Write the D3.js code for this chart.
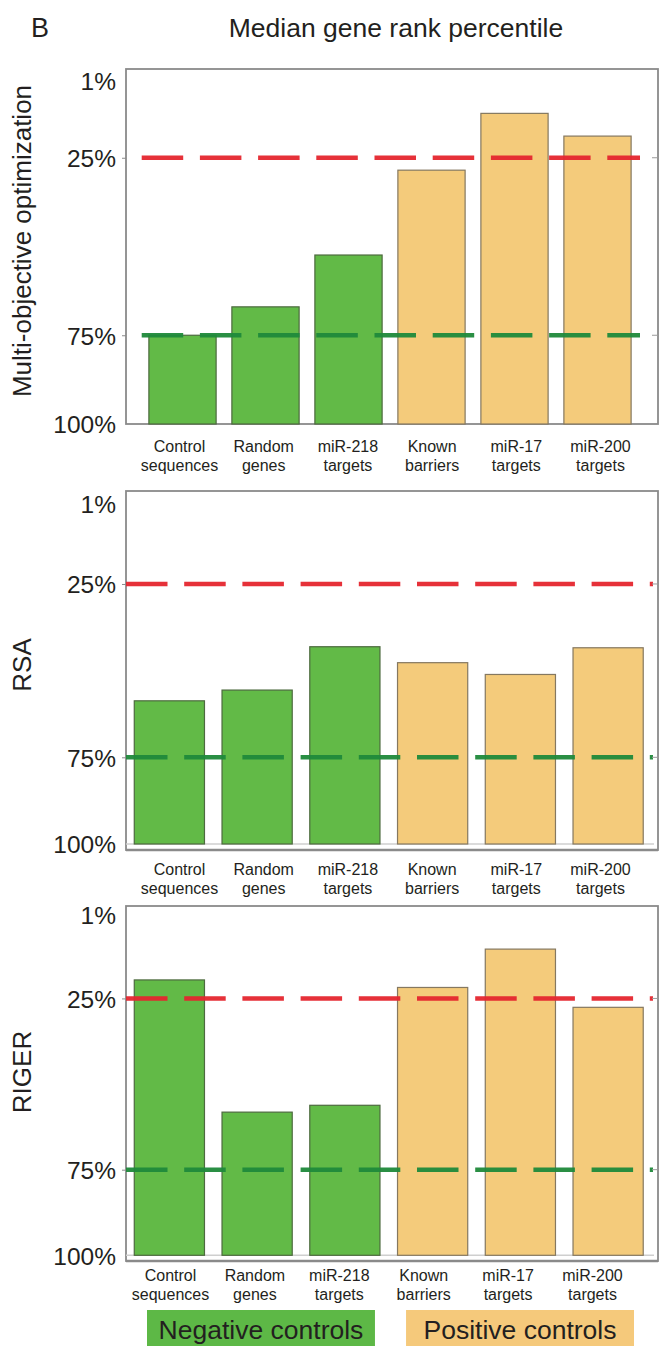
<!DOCTYPE html>
<html><head><meta charset="utf-8">
<script src="https://cdn.jsdelivr.net/npm/d3@7"></script>
<style>
body{margin:0;background:#fff}
text{font-family:"Liberation Sans",Arial,Helvetica,sans-serif;fill:#231f20}
</style>
</head><body>
<svg id="chart" width="660" height="1346"></svg>
<script>
// ---- data ----
const categories = ["Control sequences","Random genes","miR-218 targets","Known barriers","miR-17 targets","miR-200 targets"];
const groups = ["neg","neg","neg","pos","pos","pos"];
const methods = ["Multi-objective optimization","RSA","RIGER"];
const moValues = [75, 67, 52.4, 28.5, 12.5, 18.9];
const rsaValues = [58.7, 55.6, 43.1, 47.7, 51.1, 43.4];
const rigerValues = [19.6, 58.2, 56.2, 21.8, 10.6, 27.6];
const yTicks = [1, 25, 75, 100];
const yTickLabels = ["1%","25%","75%","100%"];
const thresholds = [25, 75];
const legendLabels = ["Negative controls","Positive controls"];
const chartTitle = "Median gene rank percentile";
const panelLetter = "B";

// ---- styles / layout ----
const fillColor = {neg:"#62ba47", pos:"#f4cb7b"};
const strokeColor = {neg:"#4d6a3f", pos:"#857860"};
const threshColor = {25:"#e5262f", 75:"#1f8a3b"};
const legendFill = ["#5db846","#f5c97b"];
const frameLeft = 126, frameRight = 658;

const panels = [
  {values: moValues, method: methods[0], frameTop: 69, frameBottom: 424, yRange:[69,424],
   band:[141,639], pad:0.19, labelRange:[179,600], labelBase:452, dash:[141.7,640], baseline:false, titleY:241, topNudge:9},
  {values: rsaValues, method: methods[1], frameTop: 491, frameBottom: 850, yRange:[497.3,844],
   band:[125.5,652], pad:0.2, labelRange:[179,600], labelBase:875, dash:[126,653], baseline:true, titleY:665, topNudge:4},
  {values: rigerValues, method: methods[2], frameTop: 906, frameBottom: 1261, yRange:[912.8,1255.3],
   band:[125.5,652], pad:0.2, labelRange:[170,592], labelBase:1281, dash:[126,653], baseline:true, titleY:1072, topNudge:0}
];

const svg = d3.select("#chart");
svg.append("rect").attr("width",660).attr("height",1346).attr("fill","#fff");

svg.append("text").attr("x",31).attr("y",37).attr("font-size",27).text(panelLetter);
svg.append("text").attr("x",396).attr("y",37).attr("font-size",26.5).attr("text-anchor","middle").text(chartTitle);

panels.forEach(p => {
  const y = d3.scaleLinear().domain([0,100]).range(p.yRange);
  const x = d3.scaleBand().domain(categories).range(p.band).paddingInner(p.pad).paddingOuter(p.pad/2);
  const xl = d3.scalePoint().domain(categories).range(p.labelRange);
  const g = svg.append("g");

  // frame
  g.append("rect").attr("x",frameLeft).attr("y",p.frameTop)
    .attr("width",frameRight-frameLeft).attr("height",p.frameBottom-p.frameTop)
    .attr("fill","none").attr("stroke","#8a8a8a").attr("stroke-width",1.8);
  if (p.baseline) {
    g.append("line").attr("x1",frameLeft).attr("x2",frameRight-4)
      .attr("y1",y(100)).attr("y2",y(100)).attr("stroke","#cfcfcf").attr("stroke-width",1.5);
    g.append("line").attr("x1",frameLeft).attr("x2",frameRight)
      .attr("y1",p.frameBottom).attr("y2",p.frameBottom).attr("stroke","#8a8a8a").attr("stroke-width",2.6);
  }

  // bars
  g.selectAll("rect.bar").data(p.values).join("rect").attr("class","bar")
    .attr("x",(d,i)=>x(categories[i])).attr("width",x.bandwidth())
    .attr("y",d=>y(d)).attr("height",d=>y(100)-y(d))
    .attr("fill",(d,i)=>fillColor[groups[i]])
    .attr("stroke",(d,i)=>strokeColor[groups[i]]).attr("stroke-width",1.2);

  // threshold dashed lines
  thresholds.forEach(t => {
    g.append("line").attr("x1",p.dash[0]).attr("x2",p.dash[1])
      .attr("y1",y(t)).attr("y2",y(t))
      .attr("stroke",threshColor[t]).attr("stroke-width",4.5)
      .attr("stroke-dasharray","41.5,16.7").attr("opacity",0.95);
    g.append("line").attr("x1",frameRight-6).attr("x2",frameRight)
      .attr("y1",y(t)).attr("y2",y(t)).attr("stroke","#9a9a9a").attr("stroke-width",1);
  });

  // y axis
  const ya = g.append("g").attr("transform",`translate(${frameLeft},0)`)
    .call(d3.axisLeft(y).tickValues(yTicks).tickFormat((d,i)=>yTickLabels[i]).tickSize(4).tickPadding(6));
  ya.select(".domain").remove();
  ya.selectAll(".tick line").attr("stroke","#8a8a8a").attr("opacity",d=>thresholds.includes(d)?1:0);
  ya.selectAll(".tick text").attr("font-size",24.5).attr("font-family",null).attr("fill","#231f20")
    .attr("dy",(d)=> d===1 ? (0.32*24+p.topNudge)+"px" : "0.36em");

  // x labels
  const xa = g.append("g").attr("transform",`translate(0,${p.labelBase-11.5})`)
    .call(d3.axisBottom(xl).tickSize(0).tickPadding(0));
  xa.select(".domain").remove();
  xa.selectAll(".tick text").attr("font-size",16).attr("font-family",null).attr("fill","#231f20")
    .attr("y",0).attr("dy",null)
    .each(function(d){
      const parts = d.split(" ");
      const t = d3.select(this).text(null);
      t.append("tspan").attr("x",0).attr("dy","0.72em").text(parts[0]);
      t.append("tspan").attr("x",0).attr("dy","1.2em").text(parts.slice(1).join(" "));
    });

  // method title
  svg.append("text").attr("transform",`translate(31,${p.titleY}) rotate(-90)`)
    .attr("text-anchor","middle").attr("font-size",26).text(p.method);
});

// legend
const lx = d3.scaleBand().domain(legendLabels).range([147,634]).paddingInner(0.12);
const lg = svg.append("g");
lg.selectAll("rect").data(legendLabels).join("rect")
  .attr("x",d=>lx(d)).attr("y",1310).attr("width",lx.bandwidth()).attr("height",36)
  .attr("fill",(d,i)=>legendFill[i]);
lg.selectAll("text").data(legendLabels).join("text")
  .attr("x",d=>lx(d)+lx.bandwidth()/2).attr("y",1339).attr("text-anchor","middle")
  .attr("font-size",26.5).text(d=>d);
</script>
</body></html>
